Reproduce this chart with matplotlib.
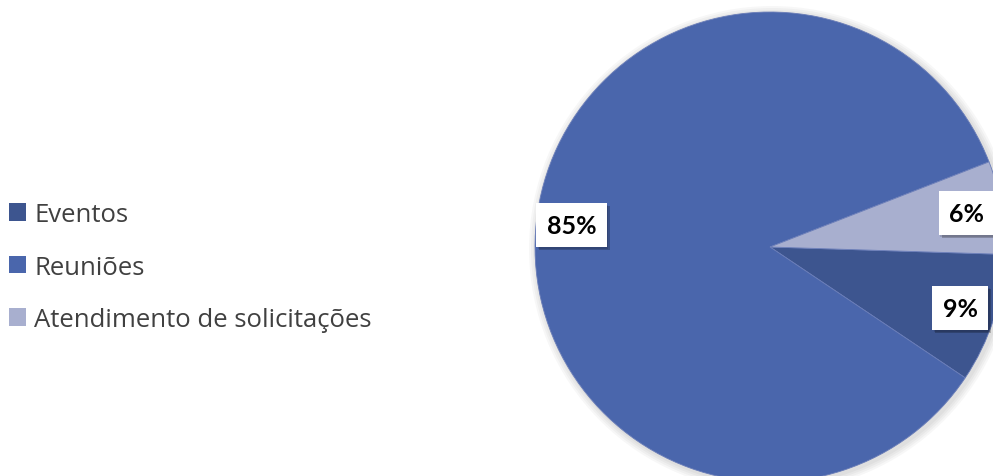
import matplotlib.pyplot as plt
from matplotlib.patches import Patch, Rectangle

categorias = ['Eventos', 'Reuniões', 'Atendimento de solicitações']
valores = [8.9, 84.7, 6.4]
cores = ['#3D558F', '#4A66AC', '#A8AFCF']

plt.rcParams['font.family'] = ['Open Sans', 'DejaVu Sans']
fonte_rotulo = ['Lato', 'DejaVu Sans']

fig = plt.figure(figsize=(9.93, 4.77), dpi=100)
ax = fig.add_axes([0, 0, 1, 1])

# sombra suave da pizza
for i in range(4):
    ax.pie([1], colors=['#000000'], radius=235 + 2 + 2 * i, center=(772, 227),
           wedgeprops=dict(alpha=0.03, linewidth=0))

wedges, textos, autotextos = ax.pie(
    valores, colors=cores, startangle=-1.8, counterclock=False,
    radius=235, center=(770, 229), autopct='%.0f%%', pctdistance=0.85,
    wedgeprops=dict(linewidth=0.6, edgecolor='#6a7db8'),
    textprops=dict(fontsize=18, fontweight='bold', color='black', family=fonte_rotulo))

for t in autotextos:
    t.set_bbox(dict(boxstyle='square,pad=0.42', facecolor='white', edgecolor='none'))

ax.set_xlim(0, 993)
ax.set_ylim(0, 477)
ax.set_aspect('equal')
ax.axis('off')

# caixas dos rótulos com sombra, desenhadas por cima
fig.canvas.draw()
r = fig.canvas.get_renderer()
ax2 = fig.add_axes([0, 0, 1, 1])
ax2.set_xlim(0, 993)
ax2.set_ylim(0, 477)
ax2.axis('off')
for t in autotextos:
    bb = t.get_bbox_patch().get_window_extent(r)
    for off, a in [(3, 0.22), (1.5, 0.12)]:
        ax2.add_patch(Rectangle((bb.x0 + off, bb.y0 - off), bb.width, bb.height,
                                facecolor='black', alpha=a, edgecolor='none', zorder=1))
    ax2.add_patch(Rectangle((bb.x0, bb.y0), bb.width, bb.height,
                            facecolor='white', edgecolor='none', zorder=2))
    ax2.text(bb.x0 + bb.width / 2, bb.y0 + bb.height / 2, t.get_text(),
             ha='center', va='center', fontsize=18, fontweight='bold', color='black',
             family=fonte_rotulo, zorder=3)
    t.set_visible(False)

handles = [Patch(facecolor=c, edgecolor='none') for c in cores]
fig.legend(handles, categorias, loc='center left', bbox_to_anchor=(0.0, 0.438),
           frameon=False, fontsize=18.5, handlelength=0.68, handleheight=0.68,
           handletextpad=0.3, labelspacing=1.08, borderpad=0.15, borderaxespad=0.2,
           labelcolor='#404040')

fig.savefig('out.png', dpi=100)
